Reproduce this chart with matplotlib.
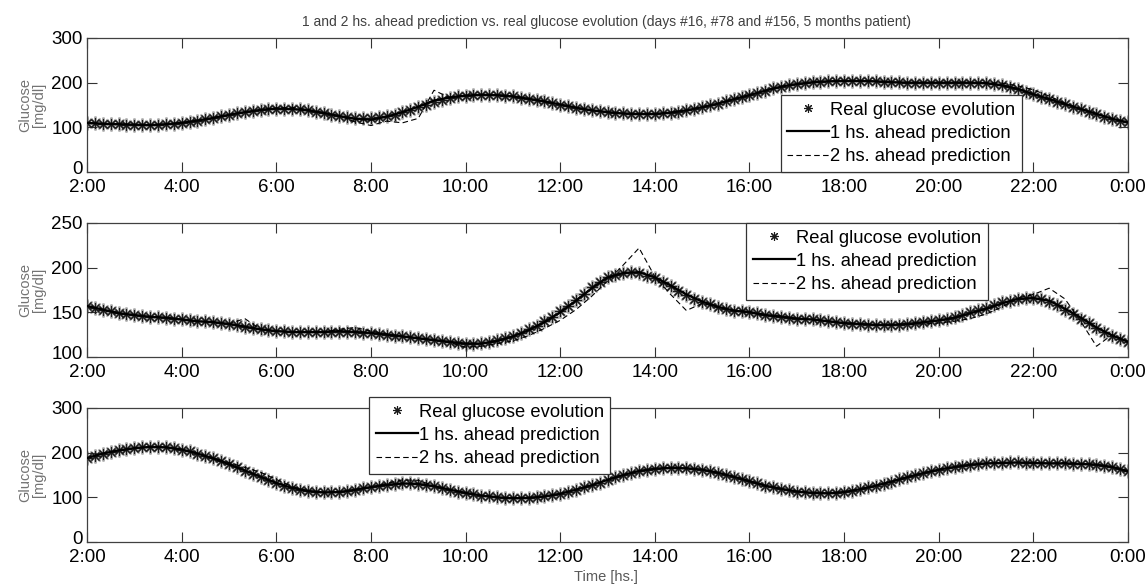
import numpy as np
import matplotlib.pyplot as plt
import matplotlib.transforms as mtransforms

plt.rcParams['font.family'] = ['Liberation Sans', 'DejaVu Sans']

# x ticks (hours of the day)
tick_hours = [2, 4, 6, 8, 10, 12, 14, 16, 18, 20, 22, 24]
tick_labels = ['2:00', '4:00', '6:00', '8:00', '10:00', '12:00',
               '14:00', '16:00', '18:00', '20:00', '22:00', '0:00']

# real glucose, one value every 10 min from 2:00 to 0:00 (mg/dl)
real_day16 = [
    110, 109, 108, 108, 107, 106, 106, 105, 105, 106, 107, 108,
    110, 112, 115, 118, 121, 125, 128, 131, 134, 137, 139, 141,
    142, 142, 141, 140, 138, 135, 132, 128, 125, 122, 120, 120,
    120, 122, 125, 128, 134, 139, 145, 151, 157, 162, 166, 169,
    171, 172, 173, 173, 172, 171, 169, 166, 164, 161, 158, 154,
    151, 148, 144, 141, 138, 136, 134, 132, 131, 130, 130, 130,
    130, 131, 133, 135, 138, 141, 145, 149, 153, 158, 163, 167,
    172, 177, 182, 187, 191, 194, 197, 199, 201, 202, 203, 204,
    204, 204, 204, 203, 203, 202, 201, 201, 200, 200, 200, 200,
    200, 200, 200, 200, 200, 199, 199, 197, 194, 191, 186, 180,
    174, 168, 163, 157, 152, 146, 141, 135, 130, 124, 119, 115,
    111]
real_day78 = [
    157, 155, 153, 151, 149, 148, 147, 146, 145, 145, 144, 143,
    142, 141, 140, 140, 139, 138, 137, 136, 134, 133, 131, 130,
    129, 129, 128, 128, 128, 128, 128, 128, 128, 128, 128, 127,
    127, 126, 125, 124, 123, 122, 121, 120, 119, 118, 117, 116,
    115, 115, 116, 117, 119, 121, 124, 127, 131, 135, 140, 145,
    151, 157, 164, 171, 178, 184, 189, 192, 194, 195, 194, 191,
    188, 184, 179, 174, 169, 165, 162, 159, 156, 154, 152, 151,
    150, 149, 147, 146, 145, 144, 143, 142, 142, 141, 140, 139,
    138, 137, 137, 136, 136, 136, 136, 136, 137, 138, 139, 140,
    141, 143, 145, 147, 150, 153, 155, 158, 161, 163, 165, 166,
    166, 165, 162, 158, 153, 148, 143, 138, 133, 128, 124, 120,
    117]
real_day156 = [
    188, 193, 198, 202, 205, 208, 210, 212, 213, 213, 212, 210,
    207, 203, 198, 193, 187, 181, 174, 167, 160, 153, 146, 139,
    132, 126, 121, 117, 114, 112, 111, 111, 112, 114, 117, 120,
    123, 126, 128, 130, 131, 131, 130, 128, 125, 121, 117, 113,
    110, 107, 104, 102, 100, 99, 98, 98, 99, 100, 102, 105,
    108, 112, 117, 122, 127, 133, 139, 145, 150, 155, 159, 162,
    164, 165, 166, 166, 165, 164, 162, 159, 155, 151, 146, 141,
    136, 131, 126, 122, 119, 116, 113, 111, 110, 109, 109, 110,
    112, 115, 118, 122, 126, 130, 135, 140, 145, 149, 154, 158,
    162, 165, 168, 171, 173, 175, 176, 177, 177, 178, 178, 177,
    177, 176, 176, 176, 176, 175, 175, 174, 173, 171, 168, 163,
    158]

# predictions, one value every 20 min
pred1h_day16 = [
    110, 108, 107, 106, 105, 107, 110, 115, 121, 128, 134, 139,
    142, 141, 138, 132, 125, 119, 117, 124, 134, 146, 160, 167,
    171, 173, 172, 169, 164, 158, 151, 144, 138, 134, 131, 130,
    130, 133, 138, 145, 153, 163, 172, 182, 191, 197, 201, 203,
    204, 204, 203, 201, 200, 200, 200, 200, 200, 199, 194, 186,
    174, 163, 152, 141, 130, 119, 111]
pred2h_day16 = [
    110, 108, 107, 106, 105, 107, 110, 115, 121, 128, 134, 139,
    143, 145, 140, 133, 126, 112, 104, 114, 110, 120, 183, 166,
    171, 173, 173, 170, 164, 158, 151, 144, 138, 134, 131, 130,
    130, 133, 138, 145, 153, 163, 172, 182, 191, 197, 201, 203,
    204, 204, 203, 201, 200, 200, 200, 200, 200, 200, 199, 193,
    184, 170, 154, 141, 130, 119, 111]
pred1h_day78 = [
    157, 153, 149, 147, 145, 144, 142, 140, 139, 137, 134, 131,
    129, 128, 128, 128, 129, 128, 127, 125, 123, 121, 119, 117,
    115, 115, 118, 123, 130, 139, 150, 163, 177, 189, 194, 195,
    189, 180, 170, 162, 156, 152, 150, 147, 145, 143, 142, 140,
    138, 137, 136, 136, 137, 139, 141, 144, 149, 154, 160, 165,
    166, 163, 154, 144, 133, 124, 117]
pred2h_day78 = [
    157, 153, 149, 147, 145, 144, 142, 140, 139, 137, 143, 131,
    129, 128, 128, 128, 131, 133, 129, 126, 123, 121, 119, 116,
    111, 112, 115, 118, 124, 132, 141, 153, 168, 185, 203, 222,
    190, 170, 152, 160, 156, 152, 151, 147, 146, 143, 142, 140,
    138, 137, 136, 136, 136, 137, 138, 140, 143, 148, 156, 166,
    170, 177, 165, 140, 112, 125, 117]
pred1h_day156 = [
    188, 198, 205, 210, 213, 212, 207, 198, 187, 174, 160, 146,
    132, 121, 114, 111, 112, 117, 123, 128, 131, 130, 125, 117,
    110, 104, 100, 98, 99, 102, 108, 117, 127, 139, 150, 159,
    164, 166, 165, 162, 155, 146, 136, 126, 119, 113, 110, 109,
    112, 118, 126, 135, 145, 154, 162, 168, 173, 176, 177, 178,
    177, 176, 176, 175, 173, 168, 158]
pred2h_day156 = [
    188, 198, 205, 210, 213, 212, 207, 198, 188, 178, 167, 156,
    140, 124, 115, 111, 112, 117, 123, 131, 139, 138, 126, 117,
    110, 104, 100, 98, 99, 102, 108, 117, 127, 139, 150, 159,
    164, 166, 165, 162, 155, 146, 136, 126, 119, 113, 110, 109,
    112, 118, 126, 135, 145, 154, 162, 168, 173, 176, 177, 178,
    177, 176, 178, 175, 173, 168, 158]

panels = [
    (real_day16, pred1h_day16, pred2h_day16, (0, 300), [0, 100, 200, 300]),
    (real_day78, pred1h_day78, pred2h_day78, (100, 250), [100, 150, 200, 250]),
    (real_day156, pred1h_day156, pred2h_day156, (0, 300), [0, 100, 200, 300]),
]
# axes bottoms and legend anchors (figure fraction)
ax_bottoms = [0.7065, 0.3908, 0.0751]
leg_anchors = [(0.680, 0.838), (0.650, 0.6195), (0.3214, 0.3225)]

fig = plt.figure(figsize=(11.48, 5.86), dpi=100)
asterisk = (8, 2, 0)

for i, (real, p1, p2, ylim, yticks) in enumerate(panels):
    ax = fig.add_axes([0.0758, ax_bottoms[i], 0.9068, 0.2287])
    t_real = 2 + np.arange(len(real)) / 6.0
    t_pred = 2 + np.arange(len(p1)) / 3.0

    # grey halo under the markers, like the jpeg blur of the original
    ax.plot(t_real, real, linestyle='none', marker=asterisk, ms=10,
            mew=1.6, color='0.7', zorder=1)
    ax.plot(t_real, real, linestyle='none', marker=asterisk, ms=8,
            mew=0.8, color='0.1', zorder=2, label='Real glucose evolution')
    ax.plot(t_pred, p1, '-', color='k', lw=1.6, zorder=3,
            label='1 hs. ahead prediction')
    ax.plot(t_pred, p2, '--', color='k', lw=0.8, dashes=(5, 3), zorder=3,
            label='2 hs. ahead prediction')

    ax.set_xlim(2, 24)
    ax.set_ylim(*ylim)
    ax.set_xticks(tick_hours)
    ax.set_xticklabels(tick_labels)
    ax.set_yticks(yticks)
    ax.tick_params(direction='in', length=7, width=0.8, top=True, right=True,
                   labelsize=13.5, color='0.2')
    ax.tick_params(axis='x', pad=5)
    ax.tick_params(axis='y', pad=3)
    # lift the lowest y label a little so it sits above the 2:00 label
    lowest = ax.get_yticklabels()[0]
    lowest.set_transform(lowest.get_transform() +
                         mtransforms.ScaledTranslation(0, 4 / 100, fig.dpi_scale_trans))
    for sp in ax.spines.values():
        sp.set_color('0.25')
        sp.set_linewidth(0.9)
    ax.set_ylabel('Glucose\n[mg/dl]', fontsize=10.5, color='0.45',
                  linespacing=1.0, labelpad=4)

    leg = ax.legend(loc='upper left', bbox_to_anchor=leg_anchors[i],
                    bbox_transform=fig.transFigure, borderaxespad=0,
                    fontsize=13.2, fancybox=False, framealpha=1,
                    edgecolor='0.2', handlelength=2.3, handletextpad=0.05,
                    labelspacing=0.34, borderpad=0.36, markerscale=0.8)
    leg.get_frame().set_linewidth(0.9)
    leg.set_zorder(10)

fig.text(0.528, 0.963, '1 and 2 hs. ahead prediction vs. real glucose evolution '
         '(days #16, #78 and #156, 5 months patient)',
         ha='center', va='center', fontsize=10, color='0.25')
fig.text(0.528, 0.015, 'Time [hs.]', ha='center', va='center',
         fontsize=10.5, color='0.35')

fig.savefig('out.png', dpi=100, facecolor='white')
